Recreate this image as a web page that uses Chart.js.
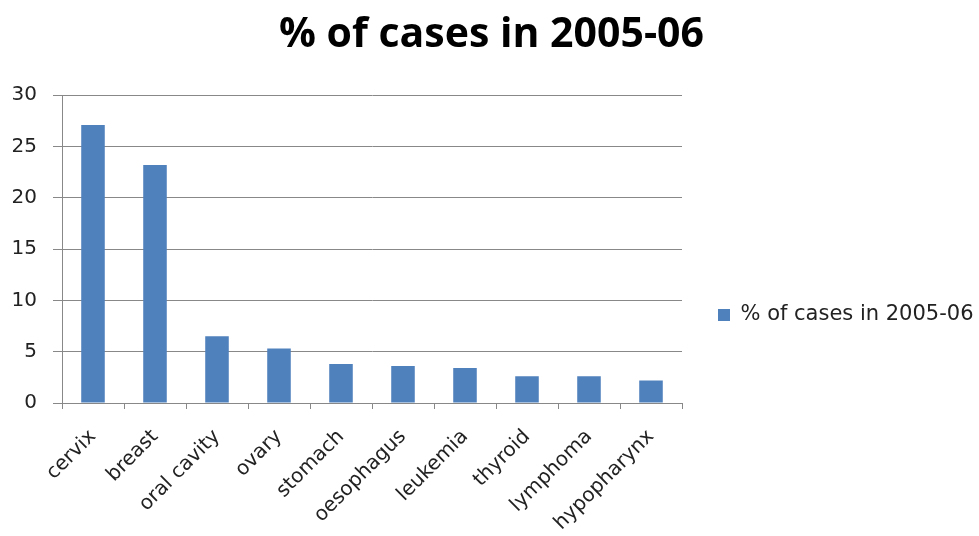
<!DOCTYPE html>
<html>
<head>
<meta charset="utf-8">
<script src="https://cdn.jsdelivr.net/npm/chart.js@4/dist/chart.umd.min.js"></script>
<style>
html,body{margin:0;padding:0;background:#fff;}
#wrap{width:979px;height:536px;position:relative;}
</style>
</head>
<body>
<div id="wrap"><canvas id="c"></canvas></div>
<script>
const categories = ["cervix","breast","oral cavity","ovary","stomach","oesophagus","leukemia","thyroid","lymphoma","hypopharynx"];
const seriesName = "% of cases in 2005-06";
const values = [27.1, 23.2, 6.5, 5.3, 3.8, 3.6, 3.4, 2.6, 2.6, 2.2];
const yTicks = [0, 5, 10, 15, 20, 25, 30];

const TEXT_FONT = "'DejaVu Sans', sans-serif";
const TITLE_FONT = "'Open Sans', 'Liberation Sans', sans-serif";

const legendLayout = {
  id: 'legendLayout',
  beforeInit(chart) {
    const lg = chart.legend;
    if (!lg) return;
    const orig = lg.fit.bind(lg);
    lg.fit = function () { orig(); this.width = 297; };
  },
  afterLayout(chart) {
    const lg = chart.legend;
    if (!lg) return;
    lg.top += 47;
    lg.bottom += 47;
  }
};

new Chart(document.getElementById('c'), {
  type: 'bar',
  data: {
    labels: categories,
    datasets: [{
      label: seriesName,
      data: values,
      backgroundColor: '#4F81BD',
      borderColor: '#4F81BD',
      borderWidth: 0,
      barPercentage: 0.76,
      categoryPercentage: 0.5
    }]
  },
  plugins: [legendLayout],
  options: {
    responsive: true,
    maintainAspectRatio: false,
    animation: false,
    layout: { padding: { left: 4, right: 0, top: 0, bottom: 0 } },
    plugins: {
      title: {
        display: true,
        text: seriesName,
        color: '#000',
        font: { family: TITLE_FONT, size: 41, weight: 'bold', lineHeight: 1.2 },
        padding: { top: 11, bottom: 35 }
      },
      legend: {
        position: 'right',
        labels: {
          color: '#222',
          font: { family: TEXT_FONT, size: 21 },
          boxWidth: 12,
          boxHeight: 12,
          padding: 36
        }
      },
      tooltip: { enabled: false }
    },
    scales: {
      x: {
        afterFit: (axis) => { axis.height = 133; },
        grid: { offset: true, drawOnChartArea: false, color: '#888', tickLength: 6 },
        border: { color: '#888', width: 1 },
        ticks: { color: '#222', font: { family: TEXT_FONT, size: 20 }, maxRotation: 45, minRotation: 45, padding: 16, autoSkip: false }
      },
      y: {
        min: 0, max: 30,
        afterBuildTicks: (axis) => { axis.ticks = yTicks.map(v => ({ value: v })); },
        afterFit: (axis) => { axis.width = 58; },
        grid: { color: '#888', tickLength: 9 },
        border: { color: '#888', width: 1 },
        ticks: { color: '#222', font: { family: TEXT_FONT, size: 20 }, padding: 16 }
      }
    }
  }
});
</script>
</body>
</html>
